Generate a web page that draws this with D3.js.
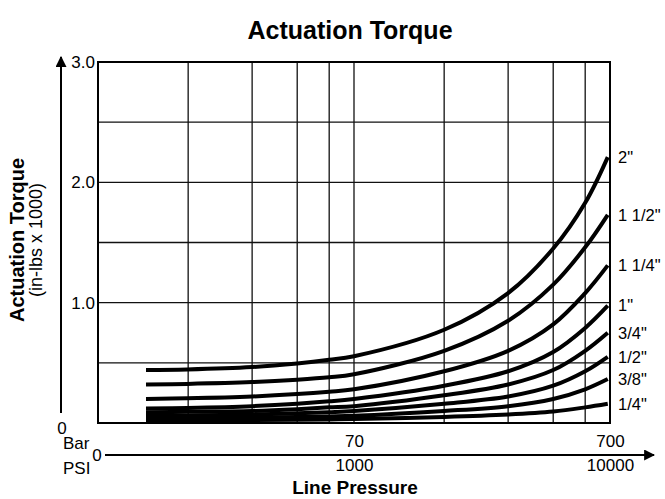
<!DOCTYPE html>
<html>
<head>
<meta charset="utf-8">
<script src="https://cdn.jsdelivr.net/npm/d3@7"></script>
<style>
  html, body { margin: 0; padding: 0; background: #fff; }
  svg { display: block; font-family: "Liberation Sans", Arial, Helvetica, sans-serif; }
</style>
</head>
<body>
<svg id="chart" width="665" height="499"></svg>
<script>
// ---- data ----
const pressurePsi = [154, 223, 400, 600, 800, 1000, 2250, 4000, 6000, 8000, 9800];
const sizes = ['2"', '1 1/2"', '1 1/4"', '1"', '3/4"', '1/2"', '3/8"', '1/4"'];
const torque2      = [0.44, 0.445, 0.465, 0.495, 0.525, 0.555, 0.775, 1.08, 1.45, 1.83, 2.21];
const torque1_5    = [0.32, 0.325, 0.34, 0.36, 0.38, 0.405, 0.60, 0.85, 1.15, 1.46, 1.73];
const torque1_25   = [0.20, 0.205, 0.22, 0.24, 0.26, 0.28, 0.43, 0.60, 0.82, 1.08, 1.31];
const torque1      = [0.12, 0.125, 0.14, 0.16, 0.18, 0.20, 0.31, 0.43, 0.59, 0.79, 0.975];
const torque3_4    = [0.09, 0.093, 0.10, 0.115, 0.13, 0.14, 0.23, 0.32, 0.44, 0.60, 0.75];
const torque1_2    = [0.06, 0.063, 0.07, 0.08, 0.09, 0.10, 0.16, 0.22, 0.31, 0.43, 0.55];
const torque3_8    = [0.04, 0.042, 0.045, 0.05, 0.055, 0.06, 0.10, 0.14, 0.20, 0.28, 0.365];
const torque1_4    = [0.02, 0.022, 0.025, 0.028, 0.03, 0.033, 0.05, 0.07, 0.095, 0.13, 0.16];
const seriesValues = [torque2, torque1_5, torque1_25, torque1, torque3_4, torque1_2, torque3_8, torque1_4];

const xGridPsi = [225, 400, 600, 800, 1000, 2250, 4000, 6000, 8000];
const yGrid = [0.5, 1.0, 1.5, 2.0, 2.5];
const yTickValues = [1, 2, 3];
const psiTicks = [1000, 10000];
const barTicks = {1000: "70", 10000: "700"};

// ---- layout ----
const svg = d3.select("#chart");
const pL = 98, pR = 610, pT = 62, pB = 423;
const x = d3.scaleLog().domain([100, 10000]).range([pL, pR]);
const y = d3.scaleLinear().domain([0, 3]).range([pB, pT]);
const FONT = "Liberation Sans, Arial, sans-serif";

// title
svg.append("text").attr("x", 350).attr("y", 39).attr("text-anchor", "middle")
  .attr("font-weight", "bold").attr("font-size", 25).text("Actuation Torque");

// grid
const g = svg.append("g");
g.selectAll(".vg").data(xGridPsi).join("line")
  .attr("x1", d => x(d)).attr("x2", d => x(d)).attr("y1", pT).attr("y2", pB)
  .attr("stroke", "#111").attr("stroke-width", 1.3);
g.selectAll(".hg").data(yGrid).join("line")
  .attr("x1", pL).attr("x2", pR).attr("y1", d => y(d)).attr("y2", d => y(d))
  .attr("stroke", "#111").attr("stroke-width", 1.3);
g.append("rect").attr("x", pL).attr("y", pT).attr("width", pR - pL).attr("height", pB - pT)
  .attr("fill", "none").attr("stroke", "#000").attr("stroke-width", 2);

// curves
const line = d3.line().x((d, i) => x(pressurePsi[i])).y(d => y(d)).curve(d3.curveCatmullRom.alpha(0.5));
svg.selectAll(".curve").data(seriesValues).join("path")
  .attr("d", d => line(d)).attr("fill", "none").attr("stroke", "#000").attr("stroke-width", 4);

// curve labels
svg.selectAll(".lab").data(seriesValues).join("text")
  .attr("x", 618).attr("y", d => y(d[d.length - 1]))
  .attr("dy", "0.35em").attr("font-size", 16.5).text((d, i) => sizes[i]);

// y axis tick labels
const yAxis = d3.axisLeft(y).tickValues(yTickValues).tickFormat(d3.format(".1f")).tickSize(0).tickPadding(3);
const ya = svg.append("g").attr("transform", `translate(${pL},0)`).call(yAxis);
ya.select(".domain").remove();
ya.selectAll("text").attr("font-size", 17).attr("font-family", FONT).attr("fill", "#000");

// arrows
const defs = svg.append("defs");
defs.append("marker").attr("id", "arrow").attr("viewBox", "0 0 10 10").attr("refX", 9).attr("refY", 5)
  .attr("markerWidth", 5.5).attr("markerHeight", 5.5).attr("orient", "auto")
  .append("path").attr("d", "M0,0 L10,5 L0,10 Z").attr("fill", "#000");

svg.append("line").attr("x1", 61).attr("x2", 61).attr("y1", 413).attr("y2", 57)
  .attr("stroke", "#000").attr("stroke-width", 2).attr("marker-end", "url(#arrow)");
svg.append("text").attr("x", 62).attr("y", 434).attr("text-anchor", "middle").attr("font-size", 17).text("0");

svg.append("line").attr("x1", 105).attr("x2", 654).attr("y1", 455).attr("y2", 455)
  .attr("stroke", "#000").attr("stroke-width", 2).attr("marker-end", "url(#arrow)");

// x axis labels
const psiAxis = d3.axisBottom(x).tickValues(psiTicks).tickFormat(d3.format("d")).tickSize(0).tickPadding(0);
const pa = svg.append("g").attr("transform", "translate(0,459)").call(psiAxis);
pa.select(".domain").remove();
pa.selectAll("text").attr("font-size", 17).attr("font-family", FONT).attr("fill", "#000");

const barAxis = d3.axisTop(x).tickValues(psiTicks).tickFormat(d => barTicks[d]).tickSize(0).tickPadding(4);
const ba = svg.append("g").attr("transform", "translate(0,451)").call(barAxis);
ba.select(".domain").remove();
ba.selectAll("text").attr("font-size", 17).attr("font-family", FONT).attr("fill", "#000");

svg.append("text").attr("x", 63).attr("y", 449).attr("font-size", 17).text("Bar");
svg.append("text").attr("x", 63).attr("y", 474).attr("font-size", 17).text("PSI");
svg.append("text").attr("x", 97).attr("y", 461).attr("text-anchor", "middle").attr("font-size", 17).text("0");

svg.append("text").attr("x", 355).attr("y", 494).attr("text-anchor", "middle")
  .attr("font-weight", "bold").attr("font-size", 19).text("Line Pressure");

// y axis title
svg.append("text").attr("transform", "translate(24,240) rotate(-90)").attr("text-anchor", "middle")
  .attr("font-weight", "bold").attr("font-size", 20).text("Actuation Torque");
svg.append("text").attr("transform", "translate(42,240) rotate(-90)").attr("text-anchor", "middle")
  .attr("font-size", 18).text("(in-lbs x 1000)");
</script>
</body>
</html>
